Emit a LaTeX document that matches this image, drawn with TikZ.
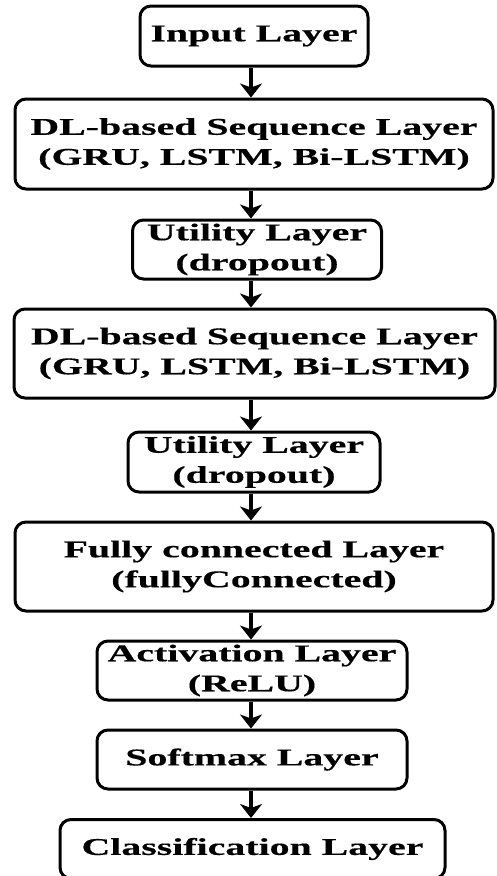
\documentclass[tikz,border=0pt]{standalone}
\usepackage{fontspec}
\setmainfont[FakeStretch=1.66,FakeBold=0.4]{Liberation Serif}
\usetikzlibrary{arrows.meta}
\begin{document}
\begin{tikzpicture}[x=1pt,y=-1pt,
  layer/.style={draw=black, line width=3pt, rounded corners=11pt, align=center,
    font=\fontsize{24}{30}\selectfont\bfseries, inner sep=0pt},
  flow/.style={line width=4pt, -{Stealth[width=22pt,length=14pt,inset=4pt]}}]
\useasboundingbox (0,0) rectangle (496,876);
\node[layer, minimum width=228pt, minimum height=60pt] (in) at (254,36) {Input Layer};
\node[layer, minimum width=478pt, minimum height=90pt] (dl1) at (254,144) {DL-based Sequence Layer\\(GRU, LSTM, Bi-LSTM)};
\node[layer, minimum width=249pt, minimum height=59pt] (u1) at (257,249.5) {Utility Layer\\(dropout)};
\node[layer, minimum width=481pt, minimum height=89pt] (dl2) at (254.5,353.5) {DL-based Sequence Layer\\(GRU, LSTM, Bi-LSTM)};
\node[layer, minimum width=252pt, minimum height=60pt] (u2) at (254,462) {Utility Layer\\(dropout)};
\node[layer, minimum width=478pt, minimum height=89pt] (fc) at (254,566.5) {Fully connected Layer\\(fullyConnected)};
\node[layer, minimum width=310pt, minimum height=59pt] (act) at (252,670.5) {Activation Layer\\(ReLU)};
\node[layer, minimum width=310pt, minimum height=59pt] (sm) at (252,759.5) {Softmax Layer};
\node[layer, minimum width=385pt, minimum height=59pt] (cl) at (252.5,849) {Classification Layer};
\coordinate (ax) at (251,0);
\foreach \a/\b in {in/dl1, dl1/u1, u1/dl2, dl2/u2, u2/fc, fc/act, act/sm, sm/cl}
  \draw[flow] (ax |- \a.south) -- (ax |- \b.north);
\end{tikzpicture}
\end{document}
